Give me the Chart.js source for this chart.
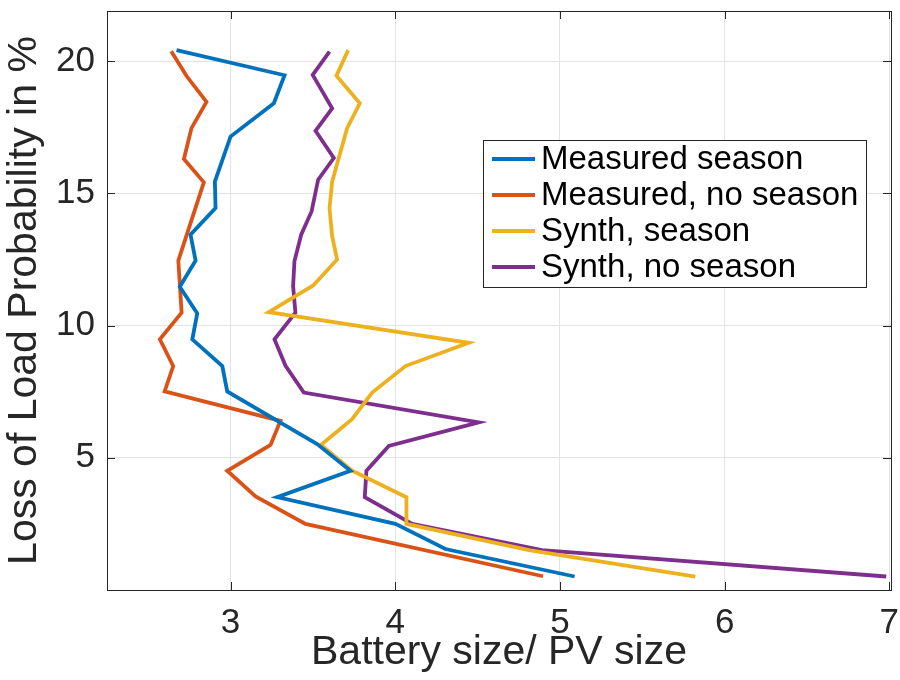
<!DOCTYPE html>
<html>
<head>
<meta charset="utf-8">
<script src="https://cdn.jsdelivr.net/npm/chart.js@4.4.0/dist/chart.umd.min.js"></script>
<style>
  html, body { margin: 0; padding: 0; background: #ffffff; }
  canvas { display: block; }
</style>
</head>
<body>
<canvas id="c" width="900" height="680"></canvas>
<script>
// ---- data ----
const seriesLabels = ["Measured season", "Measured, no season", "Synth, season", "Synth, no season"];
const seriesColors = ["#0072BD", "#D95319", "#EDB120", "#7E2F8E"];

const measuredSeasonX = [2.672, 3.328, 3.263, 3.000, 2.905, 2.909, 2.757, 2.788, 2.692, 2.798, 2.768, 2.950, 2.980, 3.526, 3.728, 3.283, 4.001, 4.305, 5.089];
const measuredSeasonY = [20.42, 19.47, 18.41, 17.15, 15.45, 14.45, 13.44, 12.46, 11.47, 10.46, 9.48, 8.47, 7.51, 5.52, 4.51, 3.51, 2.50, 1.55, 0.51];

const measuredNoSeasonX = [2.640, 2.733, 2.854, 2.763, 2.717, 2.838, 2.683, 2.703, 2.571, 2.652, 2.600, 3.303, 3.243, 2.980, 3.152, 3.455, 4.897];
const measuredNoSeasonY = [20.38, 19.44, 18.46, 17.47, 16.30, 15.42, 12.46, 10.49, 9.48, 8.47, 7.51, 6.40, 5.49, 4.51, 3.54, 2.50, 0.52];

const synthSeasonX = [3.714, 3.643, 3.785, 3.708, 3.617, 3.601, 3.617, 3.647, 3.502, 3.232, 4.446, 4.062, 3.860, 3.738, 3.550, 3.738, 4.068, 4.068, 4.820, 5.822];
const synthSeasonY = [20.42, 19.45, 18.41, 17.47, 15.45, 14.45, 13.38, 12.50, 11.52, 10.51, 9.35, 8.47, 7.47, 6.46, 5.49, 4.51, 3.51, 2.50, 1.50, 0.51];

const synthNoSeasonX = [3.601, 3.499, 3.617, 3.516, 3.627, 3.532, 3.492, 3.429, 3.388, 3.380, 3.394, 3.267, 3.334, 3.445, 4.507, 3.961, 3.825, 3.815, 4.103, 4.891, 6.981];
const synthNoSeasonY = [20.36, 19.48, 18.22, 17.37, 16.34, 15.52, 14.32, 13.44, 12.43, 11.49, 10.49, 9.48, 8.48, 7.47, 6.34, 5.45, 4.51, 3.51, 2.50, 1.51, 0.51];

const xTicks = [3, 4, 5, 6, 7];
const yTicks = [5, 10, 15, 20];
const xTitle = "Battery size/ PV size";
const yTitle = "Loss of Load Probability in %";

// ---- build datasets ----
const xsAll = [measuredSeasonX, measuredNoSeasonX, synthSeasonX, synthNoSeasonX];
const ysAll = [measuredSeasonY, measuredNoSeasonY, synthSeasonY, synthNoSeasonY];
const datasets = xsAll.map((xs, i) => ({
  label: seriesLabels[i],
  data: xs.map((x, k) => ({ x: x, y: ysAll[i][k] })),
  borderColor: seriesColors[i],
  backgroundColor: seriesColors[i],
  borderWidth: 3.8,
  showLine: true,
  pointRadius: 0,
  pointHoverRadius: 0,
  tension: 0,
  fill: false,
  borderJoinStyle: 'miter',
  borderCapStyle: 'butt'
}));

const FONT = "'Liberation Sans', Arial, Helvetica, sans-serif";
const AXIS_COLOR = "#262626";

function zeroPad(s) {
  s.paddingTop = 0; s.paddingBottom = 0; s.paddingLeft = 0; s.paddingRight = 0;
}

const boxPlugin = {
  id: 'boxPlugin',
  afterDraw(chart) {
    const ctx = chart.ctx;
    const a = chart.chartArea;
    const xs = chart.scales.x, ys = chart.scales.y;
    const tl = 8;
    ctx.save();
    ctx.strokeStyle = AXIS_COLOR;
    ctx.lineWidth = 1;
    ctx.beginPath();
    xTicks.forEach(v => {
      const px = Math.round(xs.getPixelForValue(v)) + 0.5;
      ctx.moveTo(px, a.bottom); ctx.lineTo(px, a.bottom - tl);
      ctx.moveTo(px, a.top); ctx.lineTo(px, a.top + tl);
    });
    yTicks.forEach(v => {
      const py = Math.round(ys.getPixelForValue(v)) + 0.5;
      ctx.moveTo(a.left, py); ctx.lineTo(a.left + tl, py);
      ctx.moveTo(a.right, py); ctx.lineTo(a.right - tl, py);
    });
    ctx.stroke();
    ctx.strokeRect(Math.round(a.left) + 0.5, Math.round(a.top) + 0.5,
                   Math.round(a.right - a.left), Math.round(a.bottom - a.top));

    // legend box
    const lx = 483, ly = 140, lw = 383, lh = 147;
    ctx.fillStyle = "#ffffff";
    ctx.fillRect(lx, ly, lw, lh);
    ctx.strokeStyle = AXIS_COLOR;
    ctx.lineWidth = 1;
    ctx.strokeRect(lx + 0.5, ly + 0.5, lw, lh);
    const rows = [159, 195, 231, 267];
    ctx.font = "33px " + FONT;
    ctx.textBaseline = "middle";
    ctx.textAlign = "left";
    chart.data.datasets.forEach((ds, i) => {
      ctx.strokeStyle = ds.borderColor;
      ctx.lineWidth = 3.8;
      ctx.beginPath();
      ctx.moveTo(492, rows[i]); ctx.lineTo(535, rows[i]);
      ctx.stroke();
      ctx.fillStyle = "#000000";
      ctx.fillText(ds.label, 541, rows[i] + 1);
    });
    ctx.restore();
  }
};

new Chart(document.getElementById('c'), {
  type: 'scatter',
  data: { datasets: datasets },
  options: {
    responsive: false,
    devicePixelRatio: 1,
    animation: false,
    layout: { autoPadding: false, padding: { left: 0, right: 9, top: 11, bottom: 0 } },
    plugins: { legend: { display: false }, tooltip: { enabled: false } },
    scales: {
      x: {
        type: 'linear',
        min: 2.25,
        max: 7.01,
        afterBuildTicks: s => { s.ticks = xTicks.map(v => ({ value: v })); },
        afterFit: s => { s.height = 90; zeroPad(s); },
        grid: { color: '#e3e3e3', lineWidth: 1, drawTicks: false },
        border: { display: false },
        ticks: { color: AXIS_COLOR, font: { family: FONT, size: 35 }, padding: 12, maxRotation: 0, autoSkip: false },
        title: { display: true, text: xTitle, color: AXIS_COLOR, font: { family: FONT, size: 41 }, padding: { top: 0, bottom: 3 } }
      },
      y: {
        type: 'linear',
        min: 0,
        max: 21.9,
        afterBuildTicks: s => { s.ticks = yTicks.map(v => ({ value: v })); },
        afterFit: s => { s.width = 107; zeroPad(s); },
        grid: { color: '#e3e3e3', lineWidth: 1, drawTicks: false },
        border: { display: false },
        ticks: { color: AXIS_COLOR, font: { family: FONT, size: 35 }, padding: 12, autoSkip: false },
        title: { display: true, text: yTitle, color: AXIS_COLOR, font: { family: FONT, size: 41 }, padding: { top: 0, bottom: 4 } }
      }
    }
  },
  plugins: [boxPlugin]
});
</script>
</body>
</html>
